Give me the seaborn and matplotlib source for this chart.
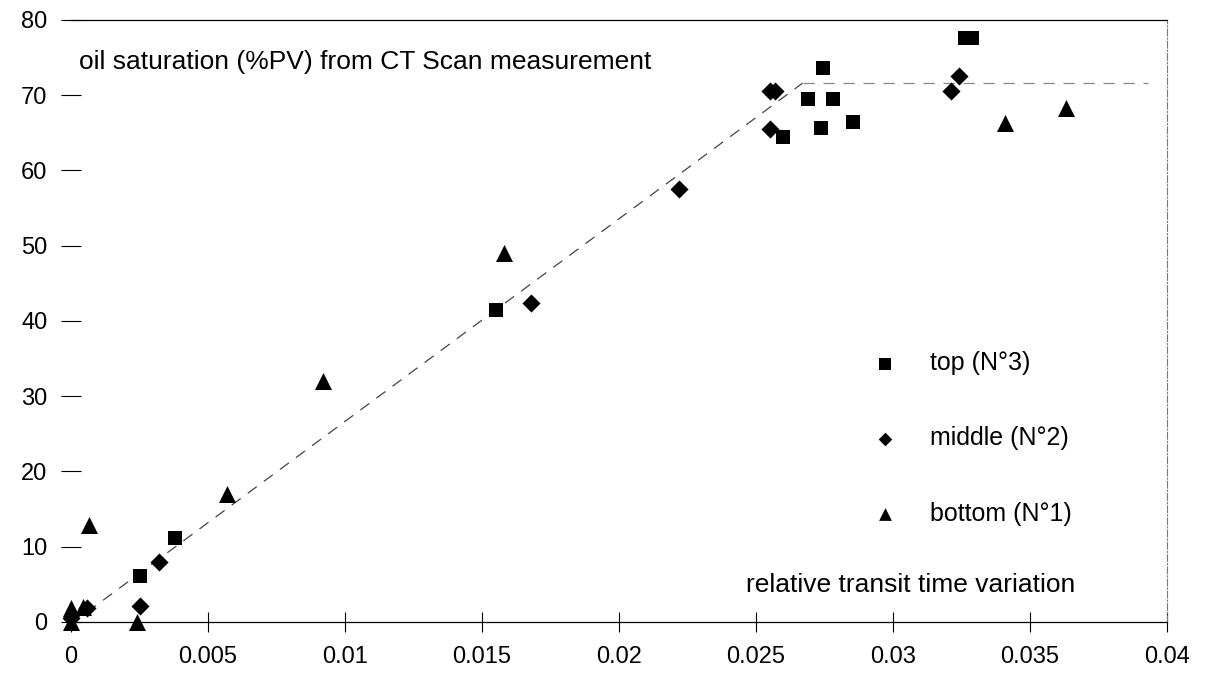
import matplotlib
matplotlib.use('Agg')
import matplotlib.pyplot as plt
import seaborn as sns

sns.set_style('white', {'text.color': 'black', 'xtick.color': 'black', 'ytick.color': 'black',
                        'xtick.bottom': True, 'ytick.left': True})
plt.rcParams['font.family'] = ['Liberation Sans', 'DejaVu Sans']

# values
top_x = [0.0025, 0.0038, 0.0155, 0.0260, 0.0269, 0.02737, 0.02745, 0.0278, 0.02854, 0.03263, 0.03288]
top_y = [6.1, 11.2, 41.5, 64.5, 69.5, 65.6, 73.6, 69.5, 66.4, 77.6, 77.6]

middle_x = [0.0, 0.0006, 0.0025, 0.0032, 0.0168, 0.0222, 0.0255, 0.0255, 0.0257, 0.0321, 0.0324]
middle_y = [0.5, 1.8, 2.1, 8.0, 42.4, 57.5, 65.5, 70.5, 70.5, 70.6, 72.6]

bottom_x = [0.0, 0.0, 0.00044, 0.00066, 0.0024, 0.0057, 0.0092, 0.0158, 0.0341, 0.0363]
bottom_y = [0.0, 1.8, 2.0, 12.9, 0.0, 17.0, 32.0, 49.0, 66.3, 68.3]

# trend line drawn on the chart
fit_x = [0.00058, 0.0267]
fit_y = [1.3, 71.6]
plateau_x = [0.0267, 0.0393]
plateau_y = [71.6, 71.6]

x_ticks = [0, 0.005, 0.01, 0.015, 0.02, 0.025, 0.03, 0.035, 0.04]
x_labels = ['0', '0.005', '0.01', '0.015', '0.02', '0.025', '0.03', '0.035', '0.04']
y_ticks = [0, 10, 20, 30, 40, 50, 60, 70, 80]

fig = plt.figure(figsize=(12.2, 6.85), dpi=100)
ax = fig.add_axes([0.0582, 0.092, 0.8984, 0.879])

ax.plot(fit_x, fit_y, color='#444444', lw=0.9, dashes=(9, 7), zorder=1)
ax.plot(plateau_x, plateau_y, color='#888888', lw=0.9, dashes=(9, 7), zorder=1)

sns.scatterplot(x=top_x, y=top_y, marker='s', s=115, color='black', edgecolor='black',
                linewidth=0, label='top (N°3)', ax=ax, zorder=3)
sns.scatterplot(x=middle_x, y=middle_y, marker='D', s=85, color='black', edgecolor='black',
                linewidth=0, label='middle (N°2)', ax=ax, zorder=3)
sns.scatterplot(x=bottom_x, y=bottom_y, marker='^', s=150, color='black', edgecolor='black',
                linewidth=0, label='bottom (N°1)', ax=ax, zorder=3)

ax.set_xlim(0, 0.04)
ax.set_ylim(0, 80)
ax.set_xticks(x_ticks)
ax.set_xticklabels(x_labels)
ax.set_yticks(y_ticks)
ax.tick_params(axis='both', direction='inout', length=14, width=0.8, color='black',
               labelcolor='black', labelsize=17, pad=10)

ax.spines['left'].set_visible(False)
ax.spines['top'].set_color('black')
ax.spines['top'].set_linewidth(0.9)
ax.spines['bottom'].set_color('black')
ax.spines['bottom'].set_linewidth(0.9)
ax.spines['right'].set_color('#777777')
ax.spines['right'].set_linewidth(0.8)
ax.spines['right'].set_linestyle((0, (6, 2, 1, 2)))
for sp in ax.spines.values():
    sp.set_clip_on(False)
for pc in ax.collections:
    pc.set_clip_on(False)

ax.text(0.0003, 74.4, 'oil saturation (%PV) from CT Scan measurement',
        fontsize=19, va='center', ha='left', color='black')
ax.text(0.03665, 4.9, 'relative transit time variation',
        fontsize=19, va='center', ha='right', color='black')

ax.legend(loc='center left', bbox_to_anchor=(0.72, 0.305), frameon=False,
          fontsize=18, markerscale=0.75, labelspacing=2.05, handlelength=1.0,
          handletextpad=1.3, borderpad=0)

ax.set_xlabel('')
ax.set_ylabel('')
fig.savefig('out.png', dpi=100)
